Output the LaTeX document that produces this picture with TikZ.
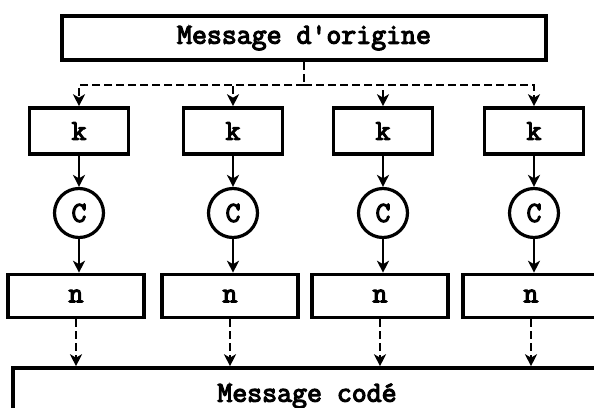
\documentclass[tikz,border=0pt]{standalone}
\usepackage{fontspec}
\newfontfamily\heavymono{Latin Modern Mono}[FakeBold=4]
\usetikzlibrary{arrows.meta}
\begin{document}
\begin{tikzpicture}[x=1pt,y=-1pt,
  every node/.style={font=\fontsize{29}{29}\selectfont\heavymono, inner sep=0pt},
  boxstyle/.style={draw, line width=3.6pt, rectangle},
  keybox/.style={boxstyle, minimum width=99pt, minimum height=46pt},
  outbox/.style={boxstyle, minimum width=136pt, minimum height=43pt},
  cnode/.style={draw, circle, line width=3.2pt, minimum size=49pt},
  tip/.style={-{Stealth[length=12pt,width=12pt,inset=3.5pt]}},
  arr/.style={line width=2.6pt, tip},
  dsh/.style={line width=2.6pt, dash pattern=on 8pt off 4pt}
]
\useasboundingbox (0,0) rectangle (594,407);
\clip (0,0) rectangle (594,407);
\fill[white] (0,0) rectangle (594,407);
\node[boxstyle, minimum width=484pt, minimum height=44pt] (top) at (304,38) {Message d\textquotesingle origine};
\coordinate (split) at (304,85);
\foreach \i/\cx in {1/79, 2/233, 3/383, 4/534} {
  \node[keybox] (k\i) at (\cx,131) {k};
  \node[cnode] (c\i) at (\cx,213) {C};
  \node[outbox] (n\i) at (\cx-3,296) {n};
}
\node[boxstyle, minimum width=600pt, minimum height=60pt] (bot) at (313,398) {};
\node (bottxt) at (307,396) {Message codé};
\draw[dsh] (top.south) -- (split);
\foreach \i in {1,...,4} {
  \draw[dsh, tip] (split) -| (k\i.north);
  \draw[arr] (k\i.south) -- (c\i.north);
  \draw[arr] (c\i.south) -- (c\i.south |- n\i.north);
  \draw[dsh, tip] (n\i.south) -- (n\i.south |- bot.north);
}
\end{tikzpicture}
\end{document}
